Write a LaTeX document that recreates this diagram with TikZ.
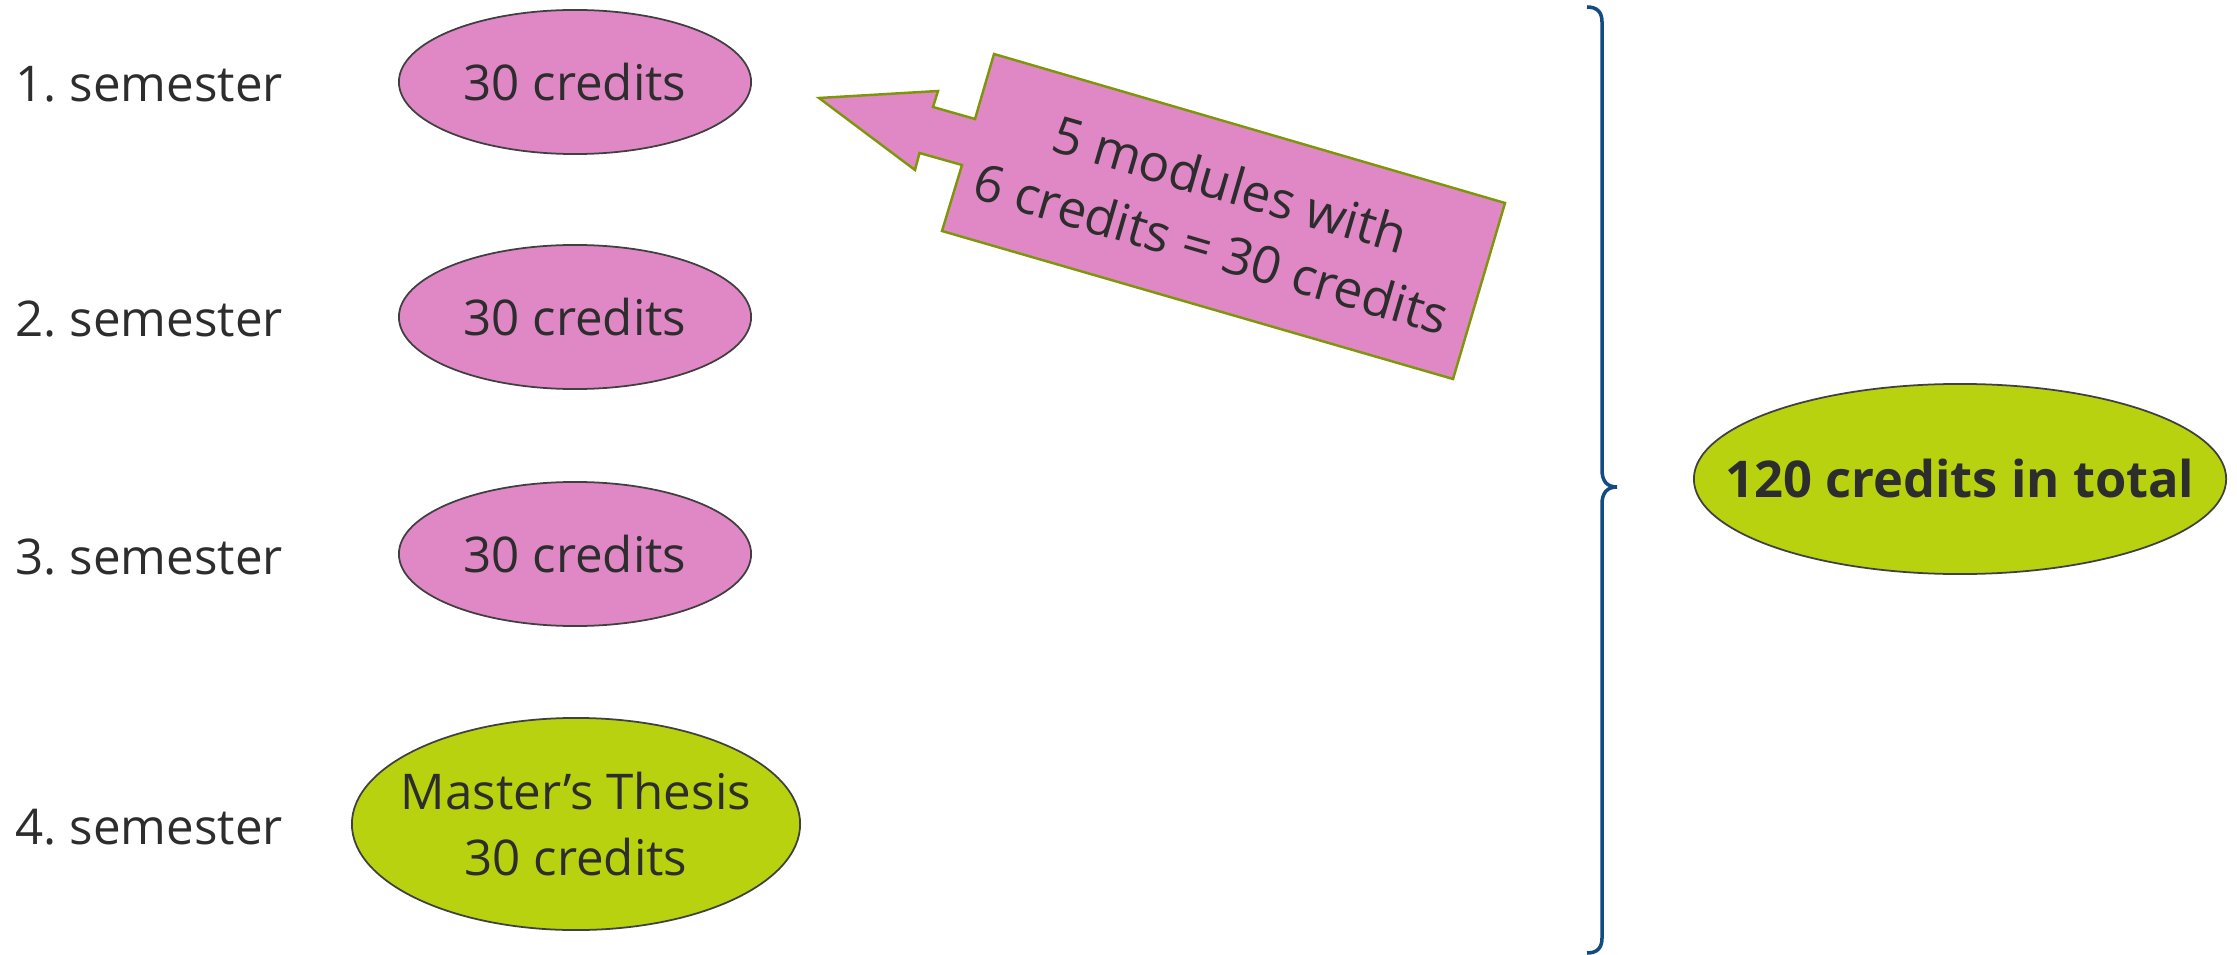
\documentclass[tikz,border=0pt]{standalone}
\usepackage{fontspec}
\setmainfont{Open Sans}
\usetikzlibrary{shapes.geometric}
\frenchspacing

\definecolor{credpink}{RGB}{224,136,197}
\definecolor{credlime}{RGB}{184,210,15}
\definecolor{edgegray}{RGB}{64,64,64}
\definecolor{calloutedge}{RGB}{125,150,10}
\definecolor{bracecol}{RGB}{20,75,130}
\definecolor{textgray}{RGB}{45,45,45}

\tikzset{
    semlabel/.style={anchor=base west, inner sep=0pt},
    credit/.style={ellipse, draw=edgegray, line width=0.5pt, fill=credpink,
        minimum width=3.52cm, minimum height=1.44cm, inner sep=-15pt},
    thesis/.style={credit, fill=credlime, minimum width=4.48cm, minimum height=2.12cm, align=center},
    total/.style={credit, fill=credlime, minimum width=5.32cm, minimum height=1.90cm,
        font=\fontsize{14.4}{18.5}\selectfont\bfseries},
    callout/.style={fill=credpink, draw=calloutedge, line width=0.7pt, line join=miter},
}

\begin{document}
\begin{tikzpicture}[x=0.01cm, y=-0.01cm,
    every node/.style={text=textgray, font=\fontsize{14}{18.5}\selectfont}]
    \useasboundingbox (0,0) rectangle (2237,955);

    % semesters
    \node[semlabel] (sem1) at (15,102) {1. semester};
    \node[semlabel] (sem2) at (15,337) {2. semester};
    \node[semlabel] (sem3) at (15,574) {3. semester};
    \node[semlabel] (sem4) at (15,844) {4. semester};

    \node[credit] (cred1) at (575,82) {30 credits};
    \node[credit] (cred2) at (575,317) {30 credits};
    \node[credit] (cred3) at (575,554) {30 credits};
    \node[thesis] (thesis) at (576,824) {Master’s Thesis\\30 credits};

    % arrow callout
    \draw[callout] (994,54) -- (1505,203) -- (1453,379) -- (942,231) -- (962,165)
        -- (919.5,153) -- (915,170) -- (819,98) -- (938,91) -- (933,107) -- (975,119) -- cycle;
    \node[rotate=-16.3, align=center, font=\fontsize{14.6}{19}\selectfont]
        (modules) at (1221,216) {5 modules with\\6 credits = 30 credits};

    % brace
    \draw[bracecol, line width=1pt] (1587,7) .. controls (1597,7) and (1602,12) .. (1602,22)
        -- (1602,470) .. controls (1602,481) and (1607,487) .. (1617,487)
        .. controls (1607,487) and (1602,493) .. (1602,504)
        -- (1602,938) .. controls (1602,948) and (1597,953) .. (1587,953);

    \node[total] (total) at (1960,479) {120 credits in total};
\end{tikzpicture}
\end{document}
